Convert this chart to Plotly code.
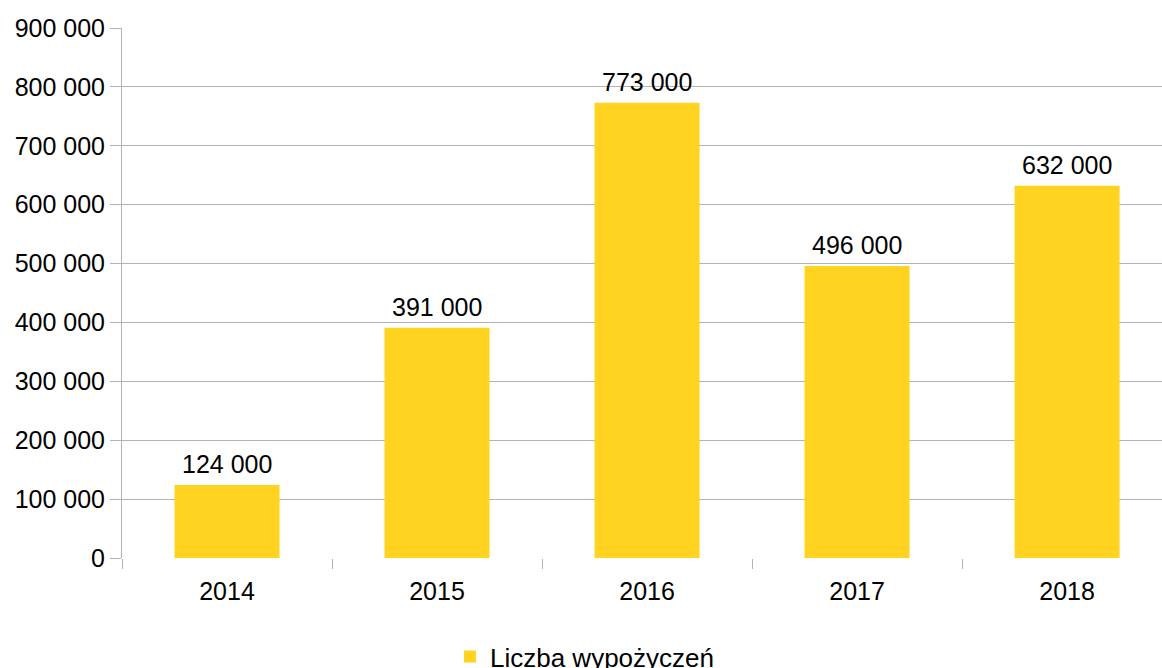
import plotly.graph_objects as go

years = ["2014", "2015", "2016", "2017", "2018"]
values = [124000, 391000, 773000, 496000, 632000]
series_name = "Liczba wypożyczeń"

FONT = "Liberation Sans"
FS = 25

fig = go.Figure()
fig.add_trace(go.Bar(
    x=years, y=values, name=series_name,
    marker=dict(color="#ffd320", line=dict(width=0)),
    width=0.5,
    showlegend=True,
))

for i, v in enumerate(values):
    fig.add_annotation(
        x=i, y=v, xref="x", yref="y",
        text=f"{v:,d}".replace(",", " "),
        showarrow=False, yanchor="bottom", yshift=5,
        font=dict(family=FONT, size=FS, color="#000000"),
    )

fig.update_layout(
    width=1162, height=668,
    margin=dict(l=122, r=0, t=28, b=110),
    plot_bgcolor="white", paper_bgcolor="white",
    separators=", ",
    font=dict(family=FONT, size=FS, color="#000000"),
    showlegend=True,
    legend=dict(orientation="h", xref="container", yref="container",
                x=0.503, xanchor="center", y=0.017, yanchor="middle",
                font=dict(size=26), itemwidth=30),
    xaxis=dict(
        type="category", range=[-0.5, 4.452],
        showgrid=False, showline=False, zeroline=False,
        ticks="outside", tickson="boundaries", ticklen=10, tickcolor="#b3b3b3",
        ticklabelstandoff=16,
        tickfont=dict(size=FS, color="#000000"),
    ),
    yaxis=dict(
        range=[0, 900000], dtick=100000, tickformat=",d",
        showgrid=True, gridcolor="#b3b3b3", gridwidth=1,
        showline=True, linecolor="#b3b3b3", linewidth=1,
        zeroline=False,
        ticks="outside", ticklen=11, tickcolor="#b3b3b3",
        tickfont=dict(size=FS, color="#000000"),
    ),
)

fig.write_html("out.html")
